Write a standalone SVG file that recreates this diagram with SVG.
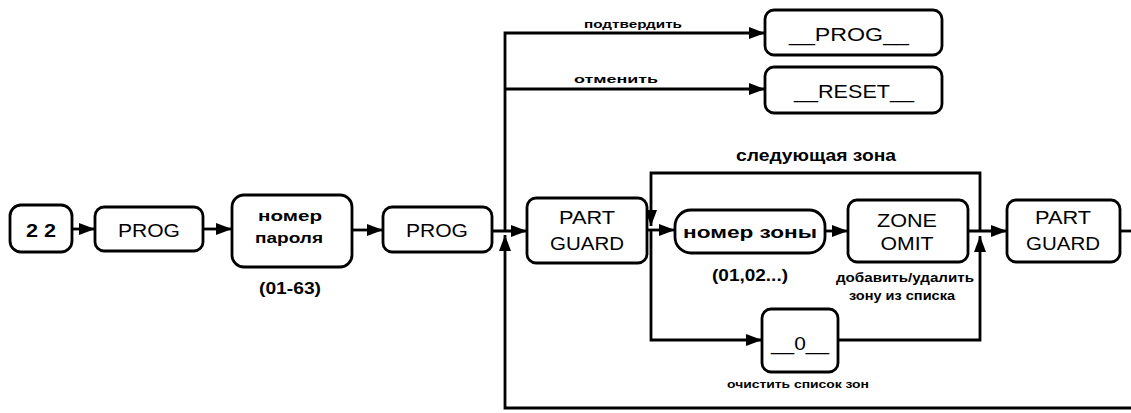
<svg xmlns="http://www.w3.org/2000/svg" width="1131" height="413" viewBox="0 0 1131 413">
<defs>
<marker id="ah" viewBox="0 0 16 12" refX="16" refY="6" markerWidth="16" markerHeight="12" markerUnits="userSpaceOnUse" orient="auto">
<path d="M0,0 L16,6 L0,12 Z" fill="#000"/>
</marker>
</defs>
<style>
.box{fill:#fff;stroke:#000;stroke-width:2.8}
.ln{fill:none;stroke:#000;stroke-width:2.8}
.t{font-family:"Liberation Sans",Arial,sans-serif;fill:#000;text-anchor:middle}
.big{font-size:19px}
.bold{font-weight:bold}
.sm{font-size:10px;font-weight:bold}
.mid{font-size:15px;font-weight:bold}
</style>
<rect width="1131" height="413" fill="#fff"/>
<g id="connectors">
<path class="ln" d="M72,229 H95" marker-end="url(#ah)"/>
<path class="ln" d="M203,229 H232" marker-end="url(#ah)"/>
<path class="ln" d="M352,230 H383" marker-end="url(#ah)"/>
<path class="ln" d="M492,231 H527" marker-end="url(#ah)"/>
<path class="ln" d="M1131,408 H505 V235" marker-end="url(#ah)"/>
<path class="ln" d="M505,231 V33 H765" marker-end="url(#ah)"/>
<path class="ln" d="M505,89 H765" marker-end="url(#ah)"/>
<path class="ln" d="M647,230 H675" marker-end="url(#ah)"/>
<path class="ln" d="M980,231 V173 H651 V226" marker-end="url(#ah)"/>
<path class="ln" d="M651,230 V340 H762" marker-end="url(#ah)"/>
<path class="ln" d="M825,231 H848" marker-end="url(#ah)"/>
<path class="ln" d="M968,231 H1007" marker-end="url(#ah)"/>
<path class="ln" d="M838,340 H980 V236" marker-end="url(#ah)"/>
<path class="ln" d="M1120,231 H1131"/>
</g>
<g id="n22">
<rect class="box" x="10" y="205" width="62" height="47" rx="11"/>
<text class="t big bold" x="41" y="237" textLength="30" lengthAdjust="spacingAndGlyphs">2 2</text>
</g>
<g id="prog1">
<rect class="box" x="95" y="207" width="108" height="44" rx="9"/>
<text class="t big" x="149" y="237" textLength="62" lengthAdjust="spacingAndGlyphs">PROG</text>
</g>
<g id="password">
<rect class="box" x="232" y="195" width="120" height="72" rx="12"/>
<text class="t mid" x="290" y="221" textLength="64" lengthAdjust="spacingAndGlyphs">номер</text>
<text class="t mid" x="289" y="243" textLength="68" lengthAdjust="spacingAndGlyphs">пароля</text>
<text class="t mid" style="font-size:17px" x="290" y="294" textLength="62" lengthAdjust="spacingAndGlyphs">(01-63)</text>
</g>
<g id="prog2">
<rect class="box" x="383" y="207" width="109" height="45" rx="9"/>
<text class="t big" x="437" y="237" textLength="62" lengthAdjust="spacingAndGlyphs">PROG</text>
</g>
<g id="partguard1">
<rect class="box" x="527" y="198" width="120" height="65" rx="9"/>
<text class="t big" x="587" y="224" textLength="56" lengthAdjust="spacingAndGlyphs">PART</text>
<text class="t big" x="587" y="250" textLength="74" lengthAdjust="spacingAndGlyphs">GUARD</text>
</g>
<g id="progtop">
<rect class="box" x="765" y="10" width="177" height="45" rx="9"/>
<text class="t big" x="849" y="41" textLength="120" lengthAdjust="spacingAndGlyphs">__PROG__</text>
<text class="t sm" x="633" y="28" textLength="98" lengthAdjust="spacingAndGlyphs">подтвердить</text>
</g>
<g id="reset">
<rect class="box" x="765" y="67" width="177" height="46" rx="9"/>
<text class="t big" x="854" y="98" textLength="120" lengthAdjust="spacingAndGlyphs">__RESET__</text>
<text class="t sm" x="616" y="83" textLength="84" lengthAdjust="spacingAndGlyphs">отменить</text>
</g>
<g id="zonenum">
<rect class="box" x="675" y="210" width="150" height="43" rx="16"/>
<text class="t bold" style="font-size:17px" x="750" y="238" textLength="134" lengthAdjust="spacingAndGlyphs">номер зоны</text>
<text class="t mid" style="font-size:17px" x="750" y="281" textLength="76" lengthAdjust="spacingAndGlyphs">(01,02...)</text>
</g>
<g id="zoneomit">
<rect class="box" x="848" y="200" width="120" height="62" rx="9"/>
<text class="t big" x="907" y="227" textLength="60" lengthAdjust="spacingAndGlyphs">ZONE</text>
<text class="t big" x="907" y="250" textLength="53" lengthAdjust="spacingAndGlyphs">OMIT</text>
<text class="t sm" style="font-size:12px" x="905" y="282" textLength="138" lengthAdjust="spacingAndGlyphs">добавить/удалить</text>
<text class="t sm" style="font-size:12px" x="902" y="300" textLength="106" lengthAdjust="spacingAndGlyphs">зону из списка</text>
</g>
<g id="zero">
<rect class="box" x="762" y="309" width="76" height="63" rx="9"/>
<text class="t big" x="800" y="350" textLength="58" lengthAdjust="spacingAndGlyphs">__0__</text>
<text class="t sm" x="798" y="388" textLength="142" lengthAdjust="spacingAndGlyphs">очистить список зон</text>
</g>
<g id="nextzone">
<text class="t bold" style="font-size:16px" x="816" y="161" textLength="160" lengthAdjust="spacingAndGlyphs">следующая зона</text>
</g>
<g id="partguard2">
<rect class="box" x="1007" y="200" width="113" height="62" rx="9"/>
<text class="t big" x="1063" y="224" textLength="56" lengthAdjust="spacingAndGlyphs">PART</text>
<text class="t big" x="1063" y="250" textLength="74" lengthAdjust="spacingAndGlyphs">GUARD</text>
</g>
</svg>
